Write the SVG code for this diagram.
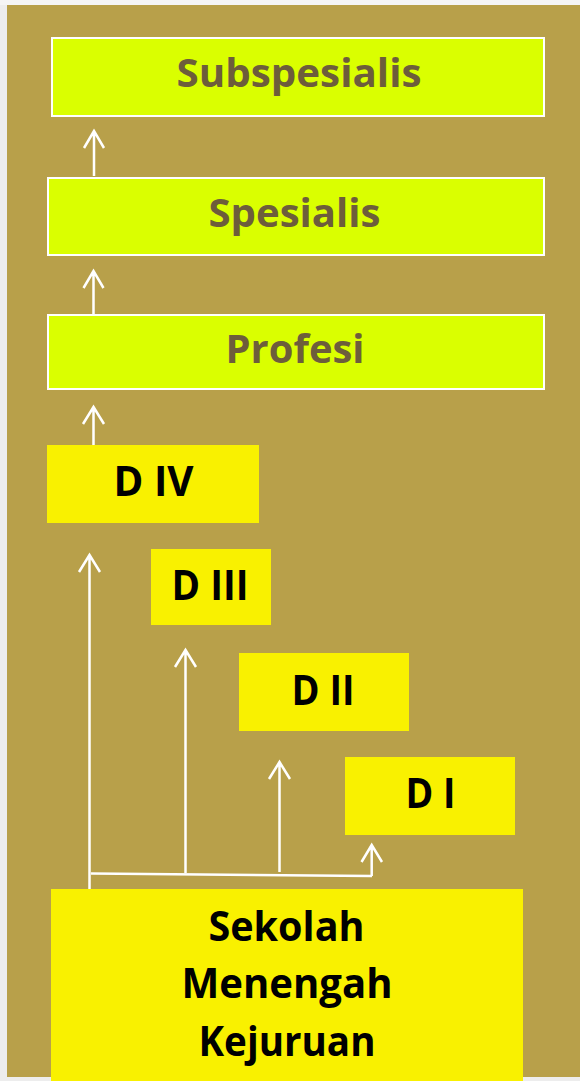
<svg xmlns="http://www.w3.org/2000/svg" width="580" height="1081" viewBox="0 0 580 1081">
  <style>
    .green { fill: #DAFF00; stroke: #FFFFFF; stroke-width: 2; }
    .yellow { fill: #F9F100; }
    .gt { font-family: "Open Sans", "Liberation Sans", sans-serif; font-weight: 700; font-size: 40px; fill: #6D5D3B; text-anchor: middle; }
    .yt { font-family: "Open Sans", "Liberation Sans", sans-serif; font-weight: 700; font-size: 41px; fill: #000000; text-anchor: middle; }
    .conn { fill: none; stroke: #FFFFFF; stroke-width: 2.5; stroke-linecap: butt; stroke-linejoin: miter; }
  </style>
  <rect x="0" y="0" width="580" height="1081" fill="#EDEDED"/>
  <rect x="0" y="0" width="580" height="5" fill="#F5F5F5"/>
  <rect x="7" y="5" width="573" height="1072" fill="#B8A04A"/>

  <g id="connectors">
    <path class="conn" d="M94,176 V131 M84,148 L94,131 L104,148"/>
    <path class="conn" d="M93.5,314 V271 M83.5,288 L93.5,271 L103.5,288"/>
    <path class="conn" d="M93.5,445 V407 M83,424 L93.5,407 L104,424"/>
    <path class="conn" d="M89.5,889 V555 M79,572 L89.5,555 L100,572"/>
    <path class="conn" d="M91,873.5 L372,876"/>
    <path class="conn" d="M185.5,873 V650 M175,667 L185.5,650 L196,667"/>
    <path class="conn" d="M279.5,872 V762 M269,779 L279.5,762 L290,779"/>
    <path class="conn" d="M371.7,876 V845 M361.5,862 L371.7,845 L382,862"/>
  </g>

  <g id="subspesialis">
    <rect class="green" x="52" y="38" width="492" height="78"/>
    <text class="gt" x="299" y="87" textLength="245" lengthAdjust="spacingAndGlyphs">Subspesialis</text>
  </g>
  <g id="spesialis">
    <rect class="green" x="48" y="178" width="496" height="77"/>
    <text class="gt" x="294.5" y="227" textLength="172" lengthAdjust="spacingAndGlyphs">Spesialis</text>
  </g>
  <g id="profesi">
    <rect class="green" x="48" y="315" width="496" height="74"/>
    <text class="gt" x="295" y="363" textLength="139" lengthAdjust="spacingAndGlyphs">Profesi</text>
  </g>
  <g id="d4">
    <rect class="yellow" x="47" y="445" width="212" height="78"/>
    <text class="yt" x="153.5" y="496" textLength="80" lengthAdjust="spacingAndGlyphs">D IV</text>
  </g>
  <g id="d3">
    <rect class="yellow" x="151" y="549" width="120" height="76"/>
    <text class="yt" x="210" y="600" textLength="77" lengthAdjust="spacingAndGlyphs">D III</text>
  </g>
  <g id="d2">
    <rect class="yellow" x="239" y="653" width="170" height="78"/>
    <text class="yt" x="323" y="705" textLength="63" lengthAdjust="spacingAndGlyphs">D II</text>
  </g>
  <g id="d1">
    <rect class="yellow" x="345" y="757" width="170" height="78"/>
    <text class="yt" x="430.5" y="808" textLength="50" lengthAdjust="spacingAndGlyphs">D I</text>
  </g>
  <g id="smk">
    <rect class="yellow" x="51" y="889" width="472" height="192"/>
    <text class="yt" x="286.5" y="941" textLength="156" lengthAdjust="spacingAndGlyphs">Sekolah</text>
    <text class="yt" x="287" y="998" textLength="211" lengthAdjust="spacingAndGlyphs">Menengah</text>
    <text class="yt" x="287" y="1056" textLength="177" lengthAdjust="spacingAndGlyphs">Kejuruan</text>
  </g>
</svg>
